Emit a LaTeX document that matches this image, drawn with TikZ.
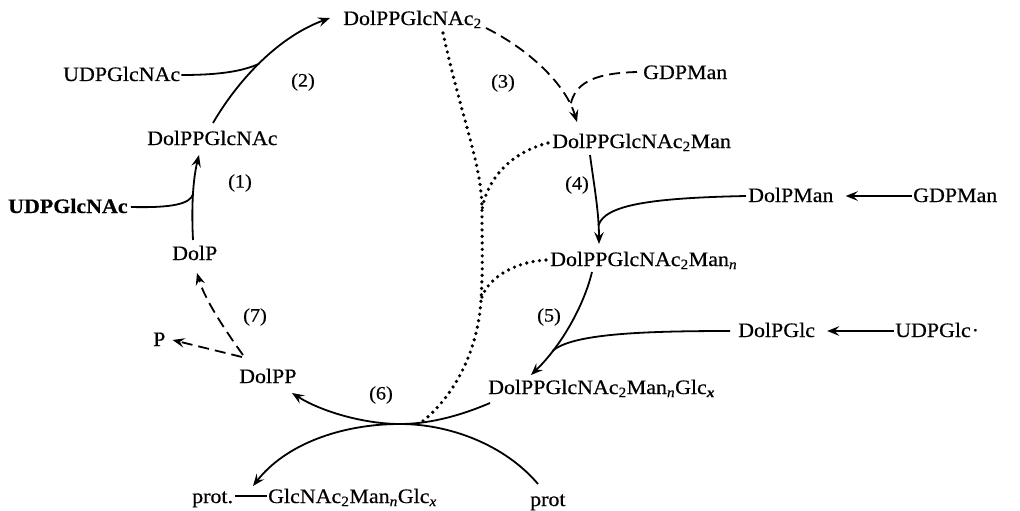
\documentclass[tikz,border=0pt]{standalone}
\usepackage{fontspec}
\setmainfont{Liberation Serif}[FakeStretch=1.07,FakeBold=0.5]
\usetikzlibrary{arrows.meta,calc}
\newcommand{\sbs}[1]{\textsubscript{#1}}
\begin{document}
\begin{tikzpicture}[x=1pt,y=-1pt,
  lbl/.style={inner sep=0pt, anchor=base west, font=\fontsize{20.5}{23}\selectfont},
  num/.style={inner sep=0pt, font=\fontsize{19}{21}\selectfont},
  solid line/.style={line width=1.8pt},
  tip/.style={-{Stealth[length=12pt,width=9.5pt,inset=4.5pt]}},
  dashline/.style={line width=1.8pt, dash pattern=on 11pt off 6pt},
  dotline/.style={line width=3.6pt, dash pattern=on 0pt off 6.5pt, line cap=round}
]
\useasboundingbox (0,0) rectangle (1020,511);

% ---- nodes
\node[lbl] (top) at (343,25) {DolPPGlcNAc\sbs{2}};
\node[lbl] (udp1) at (63,81) {UDPGlcNAc};
\node[lbl] (dpg) at (147,145) {DolPPGlcNAc};
\node[lbl] (udp2) at (8,213) {\bfseries UDPGlcNAc};
\node[lbl] (dolp) at (172,260) {DolP};
\node[lbl] (p) at (153,346) {P};
\node[lbl] (dolpp) at (239,383) {DolPP};
\node[lbl] (final) at (488,394) {DolPPGlcNAc\sbs{2}Man\sbs{\textit{n}}Glc\sbs{\textbf{\textit{x}}}};
\node[lbl] (protd) at (192,503) {prot.};
\node[lbl] (glycan) at (268,503) {GlcNAc\sbs{2}Man\sbs{\textit{n}}Glc\sbs{\textit{x}}};
\node[lbl] (prot) at (530,506) {prot};
\node[lbl] (gdp1) at (643,79) {GDPMan};
\node[lbl] (man) at (552,148) {DolPPGlcNAc\sbs{2}Man};
\node[lbl] (dolpman) at (748,202) {DolPMan};
\node[lbl] (gdp2) at (913,202) {GDPMan};
\node[lbl] (mann) at (550,266) {DolPPGlcNAc\sbs{2}Man\sbs{\textit{n}}};
\node[lbl] (dolpglc) at (738,337) {DolPGlc};
\node[lbl] (udpglc) at (895,337) {UDPGlc\kern1pt\textperiodcentered};

\node[num] (n1) at (240,183) {(1)};
\node[num] (n2) at (303,82) {(2)};
\node[num] (n3) at (503,83) {(3)};
\node[num] (n4) at (577,185) {(4)};
\node[num] (n5) at (549,317) {(5)};
\node[num] (n6) at (381,395) {(6)};
\node[num] (n7) at (255,317) {(7)};

\coordinate (touch) at (400,424);

% ---- (1)
\draw[solid line,tip] ($(dolp.base west)+(21,-20)$)
  .. controls (191,200) and (194,175) .. ($(dpg.base west)+(52,10)$)
  coordinate[pos=0.45] (j1);
\draw[solid line] ($(udp2.base east)+(3,-6)$) .. controls (172,208) and (190,204) .. (j1);

% ---- (2)
\draw[solid line,tip] ($(dpg.base west)+(66,-22)$)
  .. controls (235,85) and (275,38) .. ($(top.base west)+(-13,-7)$)
  coordinate[pos=0.5] (j2);
\draw[solid line] ($(udp1.base east)+(1,-6)$) .. controls (225,75) and (245,70) .. (j2);

% ---- (3)
\draw[dashline,tip] ($(top.base east)+(4,3)$)
  .. controls (530,50) and (566,85) .. ($(man.base west)+(25,-26)$)
  coordinate[pos=0.85] (j3);
\draw[dashline] ($(gdp1.base west)+(-6,-7)$) .. controls (600,73) and (575,80) .. (j3);

% ---- (4)
\draw[solid line,tip] ($(man.base west)+(38,7)$)
  .. controls (594,185) and (599,212) .. ($(mann.base west)+(49,-22)$)
  coordinate[pos=0.8] (j4);
\draw[solid line] ($(dolpman.base west)+(-2,-6)$) .. controls (650,198) and (605,205) .. (j4);
\draw[solid line,tip] ($(gdp2.base west)+(-1,-6)$) -- ($(dolpman.base east)+(12,-6)$);

% ---- (5)
\draw[solid line,tip] ($(mann.base west)+(42,6)$)
  .. controls (584,305) and (562,345) .. ($(final.base west)+(43,-19)$)
  coordinate[pos=0.75] (j5);
\draw[solid line] ($(dolpglc.base west)+(-8,-6)$) .. controls (640,331) and (572,334) .. (j5);
\draw[solid line,tip] ($(udpglc.base west)+(-1,-6)$) -- ($(dolpglc.base east)+(12,-6)$);

% ---- (6)
\draw[solid line,tip] ($(final.base west)+(2,9)$)
  .. controls (455,418) and (425,424) .. (touch)
  .. controls (365,424) and (322,412) .. ($(dolpp.base west)+(53,10)$);
\draw[solid line,tip] ($(prot.base west)+(8,-22)$)
  .. controls (505,445) and (450,424) .. (touch)
  .. controls (340,424) and (285,445) .. ($(protd.base west)+(61,-17)$);
\draw[solid line] ($(protd.base east)+(2,-7)$) -- ($(glycan.base west)+(-1,-7)$);

% ---- (7)
\draw[dashline,tip] ($(dolpp.base west)+(4,-28)$)
  .. controls (225,330) and (205,300) .. ($(dolp.base west)+(25,13)$);
\draw[dashline,tip] ($(dolpp.base west)+(3,-26)$) -- ($(p.base east)+(7,-6)$);

% ---- dotted
\coordinate (trA) at (482,210);
\coordinate (trB) at (481,300);
\draw[dotline] ($(top.base west)+(100,8)$)
  .. controls (462,120) and (482,165) .. (trA)
  .. controls (482,250) and (483,270) .. (trB)
  .. controls (478,350) and (455,395) .. ($(touch)+(23,-3)$);
\draw[dotline] ($(man.base west)+(-4,-5)$) .. controls (512,152) and (487,178) .. (trA);
\draw[dotline] ($(mann.base west)+(-4,-6)$) .. controls (512,262) and (486,280) .. (trB);
\end{tikzpicture}
\end{document}
